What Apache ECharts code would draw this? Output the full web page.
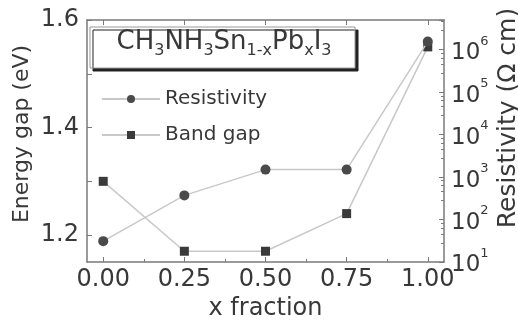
<!DOCTYPE html>
<html>
<head>
<meta charset="utf-8">
<script src="https://cdn.jsdelivr.net/npm/echarts@6/dist/echarts.min.js"></script>
<style>html,body{margin:0;padding:0;background:#fff;}#c{width:518px;height:322px;}</style>
</head>
<body>
<div id="c"></div>
<script>
const xValues = [0, 0.25, 0.5, 0.75, 1.0];
const bandGap = [1.30, 1.17, 1.17, 1.24, 1.55];
const resistivity = [31, 370, 1500, 1500, 1.55e6];
const xTickLabels = [0, 0.25, 0.5, 0.75, 1.0];
const xMinorTicks = [0.125, 0.375, 0.625, 0.875];
const gapTickLabels = [1.2, 1.4, 1.6];
const gapMinorTicks = [1.3, 1.5];

const FONT = 'DejaVu Sans';
const TXT = '#383838';
const AX = '#7a7a7a';

const chart = echarts.init(document.getElementById('c'), null, {renderer: 'canvas'});
const pair = (ys) => xValues.map((x, i) => [x, ys[i]]);

const supFmt = (v) => {
  const e = Math.log10(v);
  if (Math.abs(e - Math.round(e)) > 1e-6) return '';
  return '{b|10}{s|' + Math.round(e) + '}';
};

chart.setOption({
  animation: false,
  backgroundColor: '#fff',
  grid: {left: 87, right: 74, top: 20, bottom: 60, show: false, containLabel: false, outerBoundsMode: 'none'},
  xAxis: [
    {
      type: 'value', min: -0.05, max: 1.05, position: 'bottom',
      name: 'x fraction', nameLocation: 'middle', nameGap: 30,
      nameTextStyle: {fontFamily: FONT, fontSize: 24, color: TXT},
      axisLine: {onZero: false, lineStyle: {color: AX, width: 1.5}},
      axisTick: {inside: true, length: 5, customValues: xTickLabels, lineStyle: {color: AX}},
      axisLabel: {customValues: xTickLabels, formatter: v => v.toFixed(2), fontFamily: FONT, fontSize: 24, color: TXT, margin: 6},
      splitLine: {show: false}
    },
    {
      type: 'value', min: -0.05, max: 1.05, position: 'top',
      axisLine: {onZero: false, lineStyle: {color: AX, width: 1.5}},
      axisTick: {inside: true, length: 5, customValues: xTickLabels, lineStyle: {color: AX}},
      axisLabel: {show: false},
      splitLine: {show: false}
    },
    {
      type: 'value', min: -0.05, max: 1.05, position: 'bottom',
      axisLine: {show: false, onZero: false},
      axisTick: {inside: true, length: 3, customValues: xMinorTicks, lineStyle: {color: AX}},
      axisLabel: {show: false},
      splitLine: {show: false}
    }
  ],
  yAxis: [
    {
      type: 'value', min: 1.15, max: 1.6, position: 'left',
      axisLine: {show: true, onZero: false, lineStyle: {color: AX, width: 1.5}},
      axisTick: {show: true, inside: true, length: 5, customValues: gapTickLabels.concat(gapMinorTicks), lineStyle: {color: AX}},
      axisLabel: {customValues: gapTickLabels, formatter: v => v.toFixed(1), fontFamily: FONT, fontSize: 24, color: TXT, margin: 8},
      splitLine: {show: false}
    },
    {
      type: 'log', logBase: 10, min: 10, max: 5e6, position: 'right',
      axisLine: {show: true, onZero: false, lineStyle: {color: AX, width: 1.5}},
      axisTick: {show: true, inside: true, length: 5, lineStyle: {color: AX}},
      minorTick: {show: true, splitNumber: 5, length: 3, lineStyle: {color: AX}},
      axisLabel: {
        formatter: supFmt, showMaxLabel: false, margin: 7,
        rich: {
          b: {fontFamily: FONT, fontSize: 23, color: TXT, lineHeight: 30, verticalAlign: 'bottom'},
          s: {fontFamily: FONT, fontSize: 13, color: TXT, lineHeight: 14, verticalAlign: 'top'}
        }
      },
      splitLine: {show: false}
    }
  ],
  legend: {
    left: 96, top: 84, orient: 'vertical', itemWidth: 58, itemHeight: 10, itemGap: 16,
    textStyle: {fontFamily: FONT, fontSize: 20, color: TXT},
    data: ['Resistivity', 'Band gap']
  },
  graphic: [
    {
      type: 'rect', z: 10,
      shape: {x: 90, y: 27, width: 265, height: 41},
      style: {fill: '#fff', stroke: '#999', lineWidth: 1, shadowColor: '#222', shadowOffsetX: 3, shadowOffsetY: 3, shadowBlur: 0}
    },
    {
      type: 'text', z: 11, x: 224, y: 29,
      style: {
        text: '{m|CH}{d|3}{m|NH}{d|3}{m|Sn}{d|1-x}{m|Pb}{d|x}{m|I}{d|3}',
        align: 'center', verticalAlign: 'top',
        rich: {
          m: {fontFamily: FONT, fontSize: 26, fill: TXT, lineHeight: 30, verticalAlign: 'top'},
          d: {fontFamily: FONT, fontSize: 16, fill: TXT, lineHeight: 16, verticalAlign: 'bottom'}
        }
      }
    },
    {
      type: 'text', x: 22, y: 134, rotation: Math.PI / 2,
      style: {text: 'Energy gap (eV)', fontFamily: FONT, fontSize: 22, fill: TXT, align: 'center', verticalAlign: 'middle'}
    },
    {
      type: 'text', x: 508, y: 118, rotation: Math.PI / 2,
      style: {text: 'Resistivity (\u03A9 cm)', fontFamily: FONT, fontSize: 25, fill: TXT, align: 'center', verticalAlign: 'middle'}
    }
  ],
  series: [
    {
      name: 'Band gap', type: 'line', xAxisIndex: 0, yAxisIndex: 0, z: 2,
      data: pair(bandGap), symbol: 'rect', symbolSize: 9,
      itemStyle: {color: '#3a3a3a'},
      lineStyle: {color: '#c8c8c8', width: 1.5}
    },
    {
      name: 'Resistivity', type: 'line', xAxisIndex: 0, yAxisIndex: 1, z: 3,
      data: pair(resistivity), symbol: 'circle', symbolSize: 10,
      itemStyle: {color: '#4a4a4a'},
      lineStyle: {color: '#c8c8c8', width: 1.5}
    }
  ]
});
</script>
</body>
</html>
